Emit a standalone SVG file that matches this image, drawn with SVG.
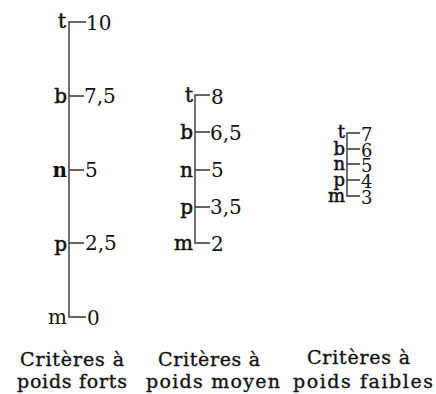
<svg xmlns="http://www.w3.org/2000/svg" width="436" height="394" viewBox="0 0 436 394">
<style>
.ax{stroke:#333;stroke-width:1.4;fill:none}
.l{font-family:"DejaVu Serif","Liberation Serif",serif;font-size:20px;fill:#111}
.k{stroke:#111;stroke-width:0.5}
.r{text-anchor:end}
.s{font-size:18px}
.c{font-family:"DejaVu Serif","Liberation Serif",serif;font-size:19px;fill:#111;stroke:#111;stroke-width:0.35}
</style>
<rect width="436" height="394" fill="#fff"/>
<g id="connectors">
<path class="ax" d="M86,22H69V317H86M69,96H84M69,170H84M69,243H84"/>
<path class="ax" d="M210,95H195V243H210M195,132H210M195,170H210M195,207H210"/>
<path class="ax" d="M360,133H347V196H360M347,149H360M347,164H360M347,180H360"/>
</g>
<g id="col1">
<text class="l k r" x="66" y="28">t</text><text class="l" x="86" y="30">10</text>
<text class="l k r" x="67" y="103">b</text><text class="l" x="84" y="103">7,5</text>
<text class="l r" x="67" y="177" font-weight="bold">n</text><text class="l" x="85" y="177">5</text>
<text class="l k r" x="67" y="251">p</text><text class="l" x="85" y="250">2,5</text>
<text class="l r" x="67" y="324">m</text><text class="l" x="87" y="325">0</text>
</g>
<g id="col2">
<text class="l k r" x="193" y="102">t</text><text class="l" x="211" y="104">8</text>
<text class="l k r" x="193" y="139">b</text><text class="l" x="210" y="140">6,5</text>
<text class="l k r" x="193" y="177">n</text><text class="l" x="211" y="177">5</text>
<text class="l k r" x="193" y="214">p</text><text class="l" x="210" y="214">3,5</text>
<text class="l k r" x="193" y="250">m</text><text class="l" x="211" y="251">2</text>
</g>
<g id="col3">
<text class="l s k r" x="345" y="138">t</text><text class="l s" x="361" y="141">7</text>
<text class="l s k r" x="345" y="155">b</text><text class="l s" x="361" y="157">6</text>
<text class="l s k r" x="345" y="170">n</text><text class="l s" x="361" y="172">5</text>
<text class="l s k r" x="345" y="186">p</text><text class="l s" x="361" y="188">4</text>
<text class="l s k r" x="345" y="202">m</text><text class="l s" x="361" y="204">3</text>
</g>
<g id="captions">
<text class="c" x="20" y="366" textLength="104" lengthAdjust="spacing">Critères à</text>
<text class="c" x="17" y="388" textLength="110" lengthAdjust="spacing">poids forts</text>
<text class="c" x="158" y="366" textLength="102" lengthAdjust="spacing">Critères à</text>
<text class="c" x="146" y="388" textLength="134" lengthAdjust="spacing">poids moyen</text>
<text class="c" x="307" y="364" textLength="103" lengthAdjust="spacing">Critères à</text>
<text class="c" x="293" y="388" textLength="140" lengthAdjust="spacing">poids faibles</text>
</g>
</svg>
